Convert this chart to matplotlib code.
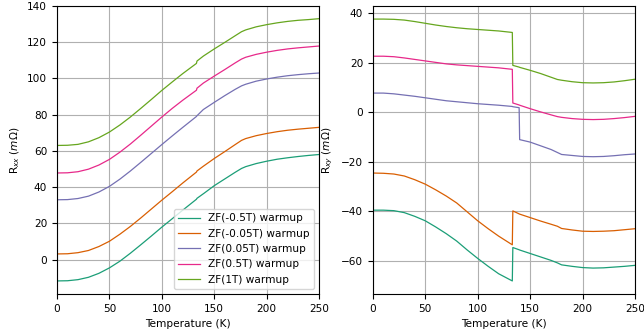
import matplotlib
matplotlib.use("Agg")
import matplotlib.pyplot as plt

# Data
temps = [0, 10, 20, 30, 40, 50, 60, 70, 80, 90, 100, 110, 120, 133, 133.5, 139.5, 140,
         150, 160, 170, 176, 180, 190, 200, 210, 220, 230, 240, 250]
labels = ['ZF(-0.5T) warmup', 'ZF(-0.05T) warmup', 'ZF(0.05T) warmup', 'ZF(0.5T) warmup', 'ZF(1T) warmup']
colors = ['#1b9e77', '#d95f02', '#7570b3', '#e7298a', '#66a61e']

rxx_m05 = [-11.8, -11.7, -11.1, -9.8, -7.6, -4.6, -0.9, 3.5, 8.2, 13.0, 17.9, 22.6, 27.3, 33.3, 33.8, 36.3, 36.5,
           40.8, 44.5, 48.2, 50.3, 51.3, 53.0, 54.3, 55.4, 56.2, 56.9, 57.5, 58.0]
rxx_m005 = [3.1, 3.2, 3.8, 5.0, 7.2, 10.1, 14.0, 18.3, 23.0, 27.9, 32.8, 37.5, 42.3, 48.3, 48.9, 51.5, 51.7,
            55.8, 59.6, 63.5, 65.8, 66.8, 68.4, 69.6, 70.6, 71.4, 72.0, 72.5, 73.0]
rxx_p005 = [33.0, 33.1, 33.7, 35.0, 37.3, 40.4, 44.4, 48.9, 53.7, 58.6, 63.5, 68.3, 73.0, 79.0, 79.4, 82.8, 83.0,
            86.8, 90.5, 94.0, 95.9, 96.8, 98.5, 99.7, 100.7, 101.5, 102.1, 102.6, 103.0]
rxx_p05 = [47.8, 47.9, 48.5, 49.9, 52.2, 55.3, 59.3, 63.8, 68.7, 73.7, 78.7, 83.5, 88.0, 93.5, 94.6, 97.4, 97.6,
           101.3, 104.9, 108.6, 110.7, 111.7, 113.3, 114.5, 115.5, 116.3, 116.9, 117.4, 117.9]
rxx_p1 = [63.0, 63.1, 63.6, 65.0, 67.3, 70.4, 74.3, 78.7, 83.5, 88.4, 93.4, 98.1, 102.7, 108.3, 109.6, 112.3, 112.5,
          116.3, 119.9, 123.6, 125.8, 126.8, 128.5, 129.7, 130.7, 131.5, 132.1, 132.5, 133.0]

rxy_m05 = [-39.5, -39.5, -39.7, -40.5, -42.0, -43.8, -46.3, -49.0, -52.0, -55.6, -59.0, -62.2, -65.2, -68.1, -54.6, -55.5, -55.6,
           -57.0, -58.4, -59.8, -60.8, -61.6, -62.2, -62.7, -62.9, -62.8, -62.5, -62.2, -61.8]
rxy_m005 = [-24.5, -24.6, -24.9, -25.7, -27.2, -29.0, -31.3, -33.8, -36.6, -40.2, -43.8, -47.0, -50.0, -53.5, -39.8, -41.0, -41.1,
            -42.5, -43.9, -45.2, -46.0, -46.9, -47.5, -48.0, -48.1, -48.0, -47.8, -47.4, -47.0]
rxy_p005 = [7.8, 7.8, 7.5, 7.0, 6.5, 5.9, 5.3, 4.7, 4.3, 3.9, 3.5, 3.2, 2.9, 2.4, 2.3, 1.9, -11.0,
            -12.0, -13.5, -15.0, -16.2, -17.0, -17.4, -17.8, -17.9, -17.8, -17.5, -17.1, -16.8]
rxy_p05 = [22.7, 22.7, 22.5, 22.0, 21.4, 20.8, 20.2, 19.6, 19.2, 18.9, 18.6, 18.3, 18.0, 17.4, 3.8, 3.0, 2.9,
           1.5, 0.2, -1.0, -1.7, -2.0, -2.5, -2.8, -2.9, -2.8, -2.5, -2.1, -1.6]
rxy_p1 = [37.7, 37.7, 37.6, 37.3, 36.7, 36.0, 35.3, 34.7, 34.2, 33.8, 33.5, 33.2, 32.9, 32.3, 19.0, 18.3, 18.2,
          17.0, 15.7, 14.2, 13.3, 13.0, 12.4, 12.0, 11.9, 12.0, 12.3, 12.8, 13.4]

rxx = [rxx_m05, rxx_m005, rxx_p005, rxx_p05, rxx_p1]
rxy = [rxy_m05, rxy_m005, rxy_p005, rxy_p05, rxy_p1]

plt.rcParams['font.size'] = 7.6

fig, axs = plt.subplots(1, 2, figsize=(6.44, 3.33), dpi=100)
fig.subplots_adjust(left=0.0885, right=0.986, top=0.982, bottom=0.117, wspace=0.205)

for ys, c, lab in zip(rxx, colors, labels):
    axs[0].plot(temps, ys, color=c, lw=0.9, label=lab)
for ys, c, lab in zip(rxy, colors, labels):
    axs[1].plot(temps, ys, color=c, lw=0.9, label=lab)

axs[0].set_ylabel(r'R$_{xx}$ ($m\Omega$)')
axs[1].set_ylabel(r'R$_{xy}$ ($m\Omega$)')
for ax in axs:
    ax.set_xlabel('Temperature (K)')
    ax.set_xlim(0, 250)
    ax.grid(True, color='#b0b0b0', lw=0.8)
axs[0].set_ylim(top=140)
axs[0].legend(loc='lower right')

plt.savefig('out.png', dpi=100)
